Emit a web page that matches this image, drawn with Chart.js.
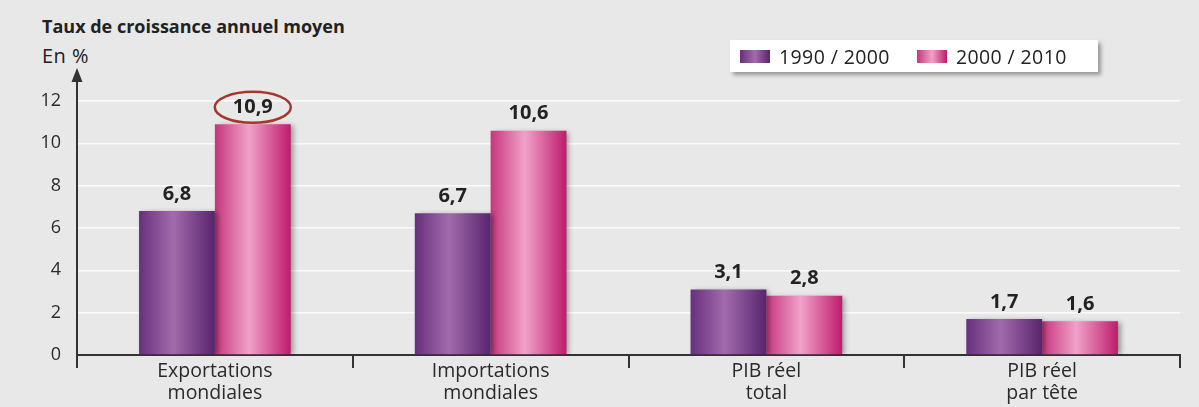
<!DOCTYPE html>
<html lang="fr">
<head>
<meta charset="utf-8">
<title>Taux de croissance annuel moyen</title>
<script src="https://cdn.jsdelivr.net/npm/chart.js@4"></script>
<style>
    html, body { margin: 0; padding: 0; }
    body {
        width: 1199px; height: 407px; overflow: hidden; position: relative;
        background: #e8e8e8;
        font-family: "Open Sans", "DejaVu Sans", sans-serif;
        color: #222;
    }
    #chart { position: absolute; left: 0; top: 0; }
    .title { position: absolute; left: 42px; top: 14px; font-size: 18px; font-weight: bold; color: #222; }
    .unit  { position: absolute; left: 42px; top: 42px; font-size: 20px; letter-spacing: 0.5px; color: #222; }
    #legend {
        position: absolute; left: 730px; top: 40px; width: 368px; height: 32px;
        background: #fff; box-shadow: 3px 3px 4px rgba(0,0,0,0.35);
        display: flex; align-items: center; font-size: 19.5px; letter-spacing: 0.4px; color: #222;
    }
    #legend .item { display: flex; align-items: center; margin-left: 10px; }
    #legend .item + .item { margin-left: 27px; }
    #legend .sw { width: 30px; height: 13px; margin-right: 9px; }
</style>
</head>
<body>
<div class="title" id="title"></div>
<div class="unit" id="unit"></div>
<canvas id="chart" width="1199" height="407"></canvas>
<div id="legend"></div>

<script>
/* Taux de croissance annuel moyen — exportations, importations, PIB */

// ─── Data ─────────────────────────────────────────────────────────────────
const titleText = 'Taux de croissance annuel moyen';
const unitText = 'En %';
const categories = [
    ['Exportations', 'mondiales'],
    ['Importations', 'mondiales'],
    ['PIB réel', 'total'],
    ['PIB réel', 'par tête']
];
const seriesLabels = ['1990 / 2000', '2000 / 2010'];
const values1990 = [6.8, 6.7, 3.1, 1.7];
const values2000 = [10.9, 10.6, 2.8, 1.6];
const yTicks = [0, 2, 4, 6, 8, 10, 12];
const highlight = { dataset: 1, index: 0 };   // circled value (10,9)

// ─── Styles ───────────────────────────────────────────────────────────────
const CAT_PCT = 0.55;
const purpleStops = ['#67307d', '#a26bab', '#58246d'];
const pinkStops = ['#c6367d', '#f0a2c9', '#bf1b6b'];
const fmt = v => v.toFixed(1).replace('.', ',');

document.getElementById('title').textContent = titleText;
document.getElementById('unit').textContent = unitText;

// horizontal "cylinder" shading, computed from the x scale
const barGradient = (stops) => (ctx) => {
    const chart = ctx.chart;
    const xs = chart.scales && chart.scales.x;
    if (ctx.type !== 'data' || !xs || !chart.chartArea) return stops[1];
    const barW = (xs.width / categories.length) * CAT_PCT / 2;
    const center = xs.getPixelForValue(ctx.dataIndex);
    const left = ctx.datasetIndex === 0 ? center - barW : center;
    const g = chart.ctx.createLinearGradient(left, 0, left + barW, 0);
    g.addColorStop(0, stops[0]);
    g.addColorStop(0.45, stops[1]);
    g.addColorStop(1, stops[2]);
    return g;
};

// ─── Legend (HTML) ────────────────────────────────────────────────────────
const legendEl = document.getElementById('legend');
[purpleStops, pinkStops].forEach((stops, i) => {
    const item = document.createElement('div');
    item.className = 'item';
    const sw = document.createElement('span');
    sw.className = 'sw';
    sw.style.background = `linear-gradient(90deg, ${stops[0]}, ${stops[1]}, ${stops[2]})`;
    const txt = document.createElement('span');
    txt.textContent = seriesLabels[i];
    item.appendChild(sw);
    item.appendChild(txt);
    legendEl.appendChild(item);
});

// ─── Plugins ──────────────────────────────────────────────────────────────
const barShadow = {
    id: 'barShadow',
    beforeDatasetsDraw(chart) {
        const c = chart.ctx;
        c.save();
        c.shadowColor = 'rgba(0,0,0,0.35)';
        c.shadowBlur = 5;
        c.shadowOffsetX = 3;
        c.shadowOffsetY = 1;
    },
    afterDatasetsDraw(chart) {
        chart.ctx.restore();
    }
};

const valueLabels = {
    id: 'valueLabels',
    afterDatasetsDraw(chart) {
        const c = chart.ctx;
        c.save();
        c.font = 'bold 20px "Open Sans", sans-serif';
        c.fillStyle = '#222';
        c.textAlign = 'center';
        c.textBaseline = 'middle';
        chart.data.datasets.forEach((ds, di) => {
            chart.getDatasetMeta(di).data.forEach((el, i) => {
                const ly = el.y - 17;
                c.fillText(fmt(ds.data[i]), el.x, ly);
                if (di === highlight.dataset && i === highlight.index) {
                    c.beginPath();
                    c.strokeStyle = '#a3372e';
                    c.lineWidth = 2.5;
                    c.ellipse(el.x, ly, 38, 15.5, 0, 0, Math.PI * 2);
                    c.stroke();
                }
            });
        });
        c.restore();
    }
};

// y axis arrow above the top of the scale
const axisArrow = {
    id: 'axisArrow',
    afterDraw(chart) {
        const { left, top } = chart.chartArea;
        const c = chart.ctx;
        c.save();
        c.strokeStyle = '#333';
        c.fillStyle = '#333';
        c.lineWidth = 2;
        c.beginPath();
        c.moveTo(left, top);
        c.lineTo(left, 80);
        c.stroke();
        c.beginPath();
        c.moveTo(left, 68);
        c.lineTo(left - 5.5, 82);
        c.lineTo(left + 5.5, 82);
        c.closePath();
        c.fill();
        c.restore();
    }
};

// ─── Chart ────────────────────────────────────────────────────────────────
new Chart(document.getElementById('chart'), {
    type: 'bar',
    data: {
        labels: categories,
        datasets: [
            { label: seriesLabels[0], data: values1990, backgroundColor: barGradient(purpleStops) },
            { label: seriesLabels[1], data: values2000, backgroundColor: barGradient(pinkStops) }
        ]
    },
    options: {
        responsive: false,
        animation: false,
        events: [],
        layout: { padding: { top: 101, right: 19, bottom: 0, left: 0 } },
        datasets: { bar: { barPercentage: 1, categoryPercentage: CAT_PCT, borderWidth: 0 } },
        plugins: { legend: { display: false }, tooltip: { enabled: false }, title: { display: false } },
        scales: {
            x: {
                afterFit: s => { s.height = 52; },
                border: { display: true, color: '#333', width: 2 },
                grid: { drawOnChartArea: false, drawTicks: true, tickLength: 13, color: '#333', lineWidth: 2 },
                ticks: {
                    color: '#2a2a2a', padding: -7, maxRotation: 0, autoSkip: false,
                    font: { family: '"Open Sans", sans-serif', size: 19.5, lineHeight: 1.12 }
                }
            },
            y: {
                min: 0, max: 12,
                afterFit: s => { s.width = 77; },
                afterBuildTicks: s => { s.ticks = yTicks.map(v => ({ value: v })); },
                border: { display: true, color: '#333', width: 2 },
                grid: { color: '#fbfbfb', lineWidth: 1.5, drawTicks: false },
                ticks: {
                    color: '#2a2a2a', padding: 16,
                    font: { family: '"Open Sans", sans-serif', size: 18 }
                }
            }
        }
    },
    plugins: [barShadow, valueLabels, axisArrow]
});
</script>
</body>
</html>
